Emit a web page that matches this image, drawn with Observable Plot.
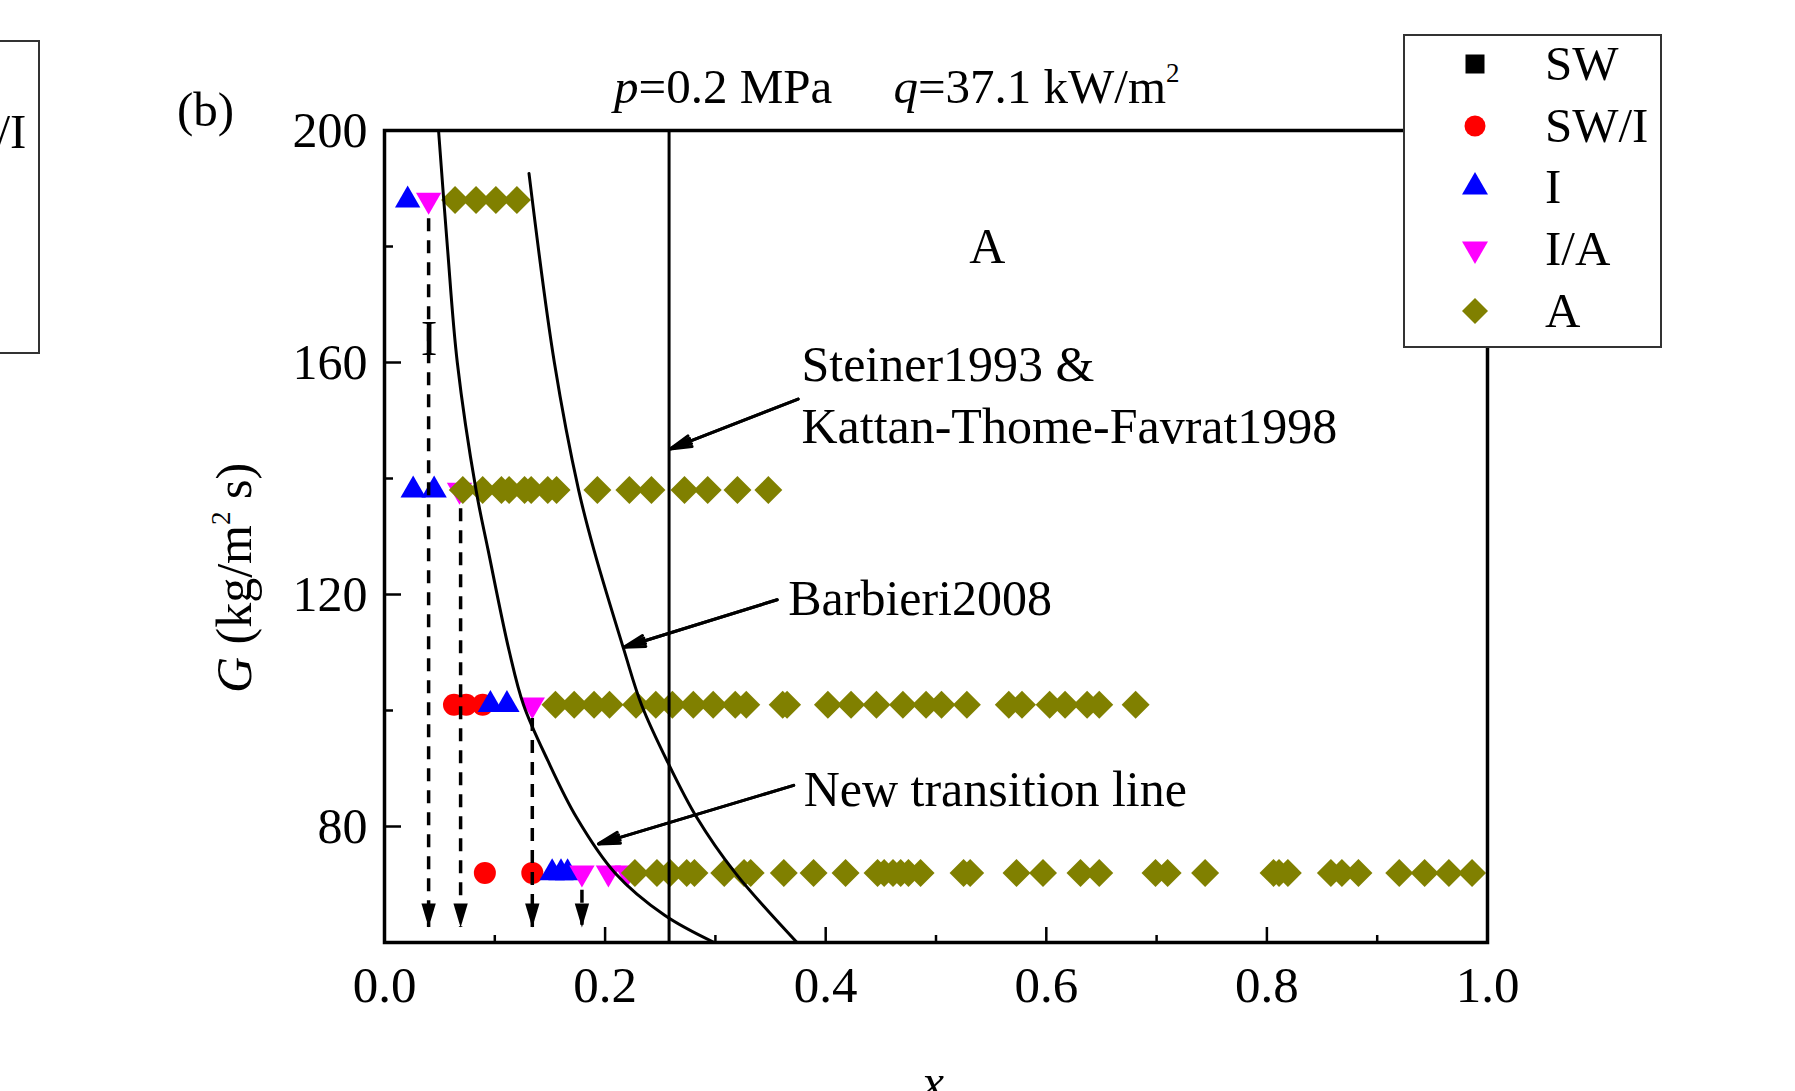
<!DOCTYPE html>
<html><head><meta charset="utf-8">
<script src="https://cdn.jsdelivr.net/npm/d3@7"></script>
<script src="https://cdn.jsdelivr.net/npm/@observablehq/plot@0.6"></script>
<style>
html,body{margin:0;padding:0;background:#fff;overflow:hidden;}
#wrap{position:relative;width:1795px;height:1091px;overflow:hidden;background:#fff;font-family:"Liberation Serif","Times New Roman",serif;color:#000;}
.abs{position:absolute;white-space:nowrap;line-height:48px;font-size:49px;}
.sup{font-size:27px;position:relative;top:-21px;}
.legend{position:absolute;box-sizing:border-box;border:2px solid #333;background:#fff;}
.lrow{position:absolute;left:0;width:100%;height:61.7px;line-height:61.7px;font-size:49px;white-space:nowrap;}
</style></head><body>
<div id="wrap"><div id="chart" style="position:absolute;left:0;top:0"></div></div>
<script>
// ---------------- data ----------------
const rowG = [188, 138, 101, 72];                       // mass flux of each test row
const xSWI = [[], [], [0.063, 0.074, 0.089], [0.091, 0.134]];
const xI   = [[0.021], [0.026, 0.045], [0.096, 0.111], [0.152, 0.160, 0.166]];
const xIA  = [[0.040], [0.068], [0.134], [0.179, 0.203, 0.220]];
const xA188 = [0.064, 0.083, 0.101, 0.120];
const xA138 = [0.071, 0.089, 0.106, 0.113, 0.127, 0.133, 0.148, 0.156, 0.193, 0.222, 0.242, 0.272, 0.293, 0.320, 0.348];
const xA101 = [0.155, 0.172, 0.190, 0.204, 0.228, 0.246, 0.261, 0.280, 0.298, 0.318, 0.328, 0.361, 0.365, 0.402, 0.423,
               0.446, 0.470, 0.491, 0.505, 0.528, 0.566, 0.578, 0.603, 0.617, 0.637, 0.648, 0.681];
const xA72  = [0.227, 0.247, 0.259, 0.274, 0.281, 0.308, 0.326, 0.332, 0.362, 0.389, 0.418, 0.447, 0.453, 0.461, 0.468,
               0.475, 0.486, 0.525, 0.531, 0.573, 0.597, 0.631, 0.648, 0.699, 0.710, 0.744, 0.806, 0.811, 0.819, 0.858,
               0.868, 0.883, 0.920, 0.943, 0.965, 0.986];

// transition lines
const newLineX = [0.049, 0.057, 0.066, 0.083, 0.094, 0.113, 0.126, 0.148, 0.174, 0.209, 0.254, 0.299];
const newLineG = [200, 180, 160, 138, 127.6, 110.3, 101, 91.4, 81.6, 72, 64.7, 60];
const barbieriX = [0.131, 0.154, 0.176, 0.190, 0.217, 0.233, 0.257, 0.283, 0.318, 0.374];
const barbieriG = [192.6, 160, 138, 127.6, 110.5, 101, 91, 81.6, 72, 60];
const steinerX = [0.258];

// dashed transition arrows
const dashX = [0.040, 0.069, 0.134, 0.179];
const dashStartG = [184.8, 134.8, 98.6, 69.0];
const dashTipG = [62.6, 62.6, 62.6, 62.6];

// annotations
const annoText = ["Steiner1993 &", "Kattan-Thome-Favrat1998", "Barbieri2008", "New transition line"];
const annoX = [0.378, 0.378, 0.366, 0.380];
const annoG = [159.5, 148.9, 119.3, 86.3];
const arrowX1 = [0.375, 0.356, 0.371];
const arrowG1 = [153.7, 119.1, 87.1];
const arrowX2 = [0.259, 0.217, 0.194];
const arrowG2 = [145.1, 110.9, 77.0];
const regionText = ["A", "I"];
const regionX = [0.5465, 0.0404];
const regionG = [180, 164.1];

// axes
const xMajor = [0, 0.2, 0.4, 0.6, 0.8, 1.0];
const xMinor = [0.1, 0.3, 0.5, 0.7, 0.9];
const yMajor = [80, 120, 160, 200];
const yMinor = [60, 100, 140, 180];

// legend
const legendLabels = ["SW", "SW/I", "I", "I/A", "A"];
const legendColors = ["#000000", "#ff0000", "#0000ff", "#ff00ff", "#808000"];

// texts
const panelLabel = "(b)";
const titleParts = ["p", "=0.2 MPa", "q", "=37.1 kW/m", "2"];

// ---------------- build ----------------
const FONT = '"Liberation Serif", "Times New Roman", serif';
const W = 1795, H = 1091, ML = 384, MR = 308, MT = 130, MB = 149;
const plotW = W - ML - MR, plotH = H - MT - MB;

const triangleDown = {
  draw(ctx, size) {
    const y = Math.sqrt(size / (Math.sqrt(3) * 3));
    ctx.moveTo(0, 2 * y);
    ctx.lineTo(-Math.sqrt(3) * y, -y);
    ctx.lineTo(Math.sqrt(3) * y, -y);
    ctx.closePath();
  }
};
const arrowHeadDown = {
  draw(ctx, size) {
    const h = Math.sqrt(size), w = h * 0.3;
    ctx.moveTo(0, 0);
    ctx.lineTo(-w, -h);
    ctx.lineTo(w, -h);
    ctx.closePath();
  }
};

const pts = (rows) => rows.flatMap((xs, i) => xs.map(x => ({x, G: rowG[i]})));
const swi = pts(xSWI), ii = pts(xI), ia = pts(xIA);
const aa = pts([xA188, xA138, xA101, xA72]);
const newLine = newLineX.map((x, i) => ({x, G: newLineG[i]}));
const barb = barbieriX.map((x, i) => ({x, G: barbieriG[i]}));
const dashIdx = d3.range(dashX.length);
const annoIdx = d3.range(annoText.length);
const arrowIdx = d3.range(arrowX1.length);
const regionIdx = d3.range(regionText.length);

const chart = Plot.plot({
  width: W, height: H,
  marginLeft: ML, marginRight: MR, marginTop: MT, marginBottom: MB,
  x: {domain: [0, 1]},
  y: {domain: [60, 200]},
  style: {fontFamily: FONT, fontSize: "50px", color: "black", background: "transparent", overflow: "visible"},
  marks: [
    // markers
    Plot.dot(swi, {x: "x", y: "G", r: 11, fill: legendColors[1]}),
    Plot.dot(ii, {x: "x", y: "G", symbol: d3.symbolTriangle, r: 9.4, fill: legendColors[2]}),
    Plot.dot(ia, {x: "x", y: "G", symbol: triangleDown, r: 9.4, fill: legendColors[3]}),
    Plot.dot(aa, {x: "x", y: "G", symbol: d3.symbolDiamond2, r: 12.6, fill: legendColors[4]}),
    // dashed arrows
    Plot.ruleX(dashIdx, {x: i => dashX[i], y1: i => dashStartG[i], y2: i => dashTipG[i], stroke: "black", strokeWidth: 3.5, strokeDasharray: "13,9"}),
    Plot.dot(dashIdx, {x: i => dashX[i], y: i => dashTipG[i], symbol: arrowHeadDown, r: 13.5, fill: "black"}),
    // transition lines
    Plot.line(newLine, {x: "x", y: "G", curve: "catmull-rom", stroke: "black", strokeWidth: 3, clip: true}),
    Plot.line(barb, {x: "x", y: "G", curve: "catmull-rom", stroke: "black", strokeWidth: 3, clip: true}),
    Plot.ruleX(steinerX, {stroke: "black", strokeWidth: 3}),
    // annotation arrows (two head angles to fill the head)
    Plot.arrow(arrowIdx, {x1: i => arrowX1[i], y1: i => arrowG1[i], x2: i => arrowX2[i], y2: i => arrowG2[i], headLength: 11, headAngle: 30, stroke: "black", strokeWidth: 3}),
    Plot.arrow(arrowIdx, {x1: i => arrowX1[i], y1: i => arrowG1[i], x2: i => arrowX2[i], y2: i => arrowG2[i], headLength: 11, headAngle: 15, stroke: "black", strokeWidth: 3}),
    // frame and ticks
    Plot.frame({stroke: "black", strokeWidth: 3.5}),
    Plot.ruleX(xMajor, {insetTop: plotH - 15, stroke: "black", strokeWidth: 2.5}),
    Plot.ruleX(xMinor, {insetTop: plotH - 7, stroke: "black", strokeWidth: 2.5}),
    Plot.ruleY(yMajor, {insetRight: plotW - 17, stroke: "black", strokeWidth: 2.5}),
    Plot.ruleY(yMinor, {insetRight: plotW - 9, stroke: "black", strokeWidth: 2.5}),
    Plot.axisX({ticks: xMajor, tickFormat: d3.format(".1f"), tickSize: 0, tickPadding: 23, label: null, fontSize: 51, fontFamily: FONT}),
    Plot.axisY({ticks: yMajor, tickFormat: d3.format("d"), tickSize: 0, tickPadding: 17, label: null, fontSize: 50, fontFamily: FONT}),
    // texts
    Plot.text(annoIdx, {x: i => annoX[i], y: i => annoG[i], text: i => annoText[i], textAnchor: "start", fontSize: 50, fontFamily: FONT, fill: "black"}),
    Plot.text(regionIdx, {x: i => regionX[i], y: i => regionG[i], text: i => regionText[i], textAnchor: "middle", fontSize: 50, fontFamily: FONT, fill: "black"})
  ]
});
document.getElementById("chart").appendChild(chart);

const wrap = document.getElementById("wrap");
function addAbs(html, left, top, extra) {
  const d = document.createElement("div");
  d.className = "abs";
  d.style.left = left + "px";
  d.style.top = top + "px";
  if (extra) d.style.cssText += extra;
  d.innerHTML = html;
  wrap.appendChild(d);
  return d;
}
// title
addAbs(`<i>${titleParts[0]}</i>${titleParts[1]}&nbsp;&nbsp;&nbsp;&nbsp;&nbsp;<i>${titleParts[2]}</i>${titleParts[3]}<span class="sup">${titleParts[4]}</span>`, 614, 63);
// panel label
addAbs(panelLabel, 177, 86);
// y label
addAbs(`<i>G</i> (kg/m<span class="sup">2</span> s)`, 238, 578, "font-size:50px;transform:translate(-50%,-50%) rotate(-90deg);");
// x label
addAbs(`<i>x</i>`, 933, 1058, "transform:translateX(-50%);");

// legends
const legendSymbols = [d3.symbolSquare, d3.symbolCircle, d3.symbolTriangle, triangleDown, d3.symbolDiamond2];
const legendSizes = [361, 346, 292, 292, 431];
function makeLegend(left, top) {
  const box = document.createElement("div");
  box.className = "legend";
  box.style.cssText += `left:${left}px;top:${top}px;width:259px;height:314px;`;
  legendLabels.forEach((lab, i) => {
    const row = document.createElement("div");
    row.className = "lrow";
    row.style.top = (-3 + i * 61.7) + "px";
    const svg = d3.create("svg").attr("width", 40).attr("height", 40)
      .style("position", "absolute").style("left", "50px").style("top", "10.85px");
    svg.append("path").attr("transform", "translate(20,20)")
      .attr("d", d3.symbol(legendSymbols[i], legendSizes[i])()).attr("fill", legendColors[i]);
    row.appendChild(svg.node());
    const t = document.createElement("span");
    t.style.cssText = "position:absolute;left:140px;top:0;";
    t.textContent = lab;
    row.appendChild(t);
    box.appendChild(row);
  });
  wrap.appendChild(box);
}
makeLegend(1403, 34);
makeLegend(-219, 40);
</script>
</body></html>
